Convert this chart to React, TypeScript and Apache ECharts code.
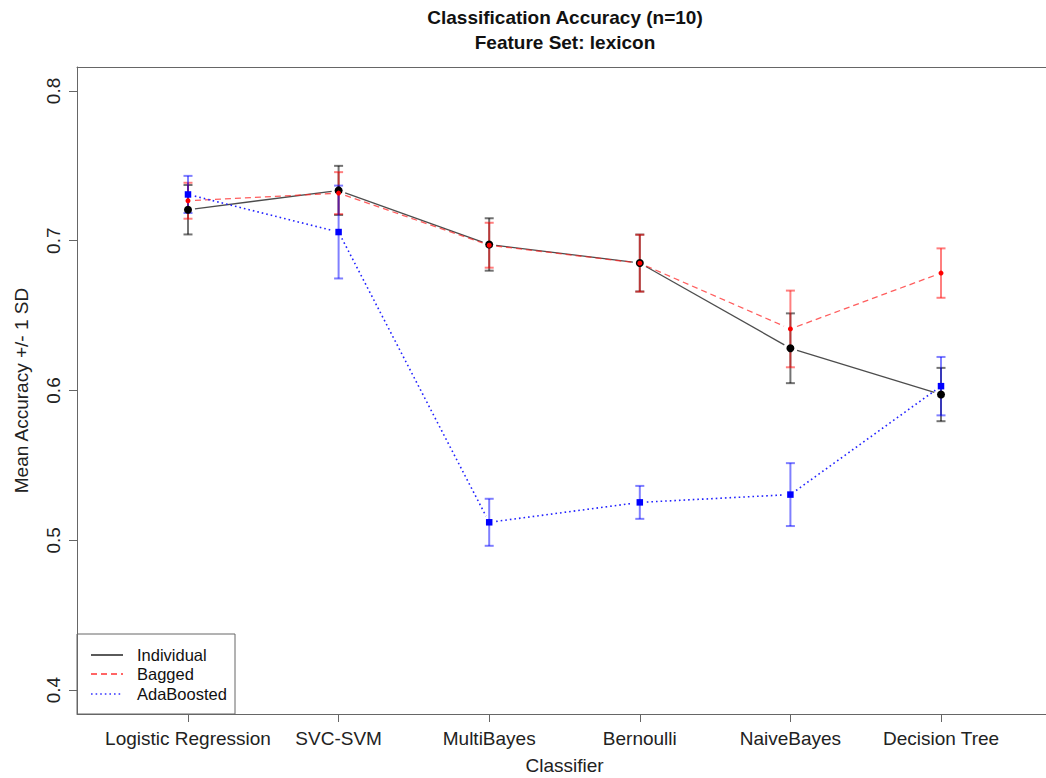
import React, { useEffect, useRef } from "react";
import * as echarts from "echarts";

const categories = ["Logistic Regression", "SVC-SVM", "MultiBayes", "Bernoulli", "NaiveBayes", "Decision Tree"];
const yTicks = [0.4, 0.5, 0.6, 0.7, 0.8];
const xTicks = [1, 2, 3, 4, 5, 6];

const individualMean = [0.7207, 0.7336, 0.6975, 0.6851, 0.6282, 0.5973];
const individualSD = [0.0165, 0.0164, 0.0175, 0.019, 0.0233, 0.0178];
const baggedMean = [0.7267, 0.7318, 0.697, 0.685, 0.6411, 0.6784];
const baggedSD = [0.012, 0.014, 0.015, 0.019, 0.0256, 0.0165];
const adaMean = [0.7309, 0.7058, 0.512, 0.5253, 0.5305, 0.6029];
const adaSD = [0.0124, 0.031, 0.0157, 0.011, 0.021, 0.0195];

const FONT = "Liberation Sans, Arial, sans-serif";

function errData(mean: number[], sd: number[]) {
  return mean.map((m, i) => [i + 1, m - sd[i], m + sd[i]]);
}
function segData(mean: number[]) {
  return mean.slice(0, -1).map((m, i) => [i + 1, m, i + 2, mean[i + 1]]);
}
function ptData(mean: number[]) {
  return mean.map((m, i) => [i + 1, m]);
}

function errSeries(name: string, mean: number[], sd: number[], color: string) {
  return {
    type: "custom",
    name: name + " SD",
    data: errData(mean, sd),
    encode: { x: 0, y: [1, 2] },
    z: 2,
    renderItem: (params: any, api: any) => {
      const lo = api.coord([api.value(0), api.value(1)]);
      const hi = api.coord([api.value(0), api.value(2)]);
      const w = 4.5;
      const style = { stroke: color, lineWidth: 2 };
      return {
        type: "group",
        children: [
          { type: "line", shape: { x1: lo[0], y1: lo[1], x2: hi[0], y2: hi[1] }, style },
          { type: "line", shape: { x1: lo[0] - w, y1: lo[1], x2: lo[0] + w, y2: lo[1] }, style },
          { type: "line", shape: { x1: hi[0] - w, y1: hi[1], x2: hi[0] + w, y2: hi[1] }, style },
        ],
      };
    },
  };
}

function lineSeries(name: string, mean: number[], color: string, dash: any, width: number) {
  return {
    type: "custom",
    name: name,
    data: segData(mean),
    encode: { x: [0, 2], y: [1, 3] },
    z: 3,
    renderItem: (params: any, api: any) => {
      const p1 = api.coord([api.value(0), api.value(1)]);
      const p2 = api.coord([api.value(2), api.value(3)]);
      const dx = p2[0] - p1[0];
      const dy = p2[1] - p1[1];
      const len = Math.hypot(dx, dy) || 1;
      const g = 7;
      const ux = dx / len;
      const uy = dy / len;
      return {
        type: "line",
        shape: { x1: p1[0] + ux * g, y1: p1[1] + uy * g, x2: p2[0] - ux * g, y2: p2[1] - uy * g },
        style: { stroke: color, lineWidth: width, lineDash: dash },
      };
    },
  };
}

function pointSeries(name: string, mean: number[], color: string, symbol: string, size: number, z: number) {
  return {
    type: "scatter",
    name: name + " pts",
    data: ptData(mean),
    symbol,
    symbolSize: size,
    itemStyle: { color, opacity: 1 },
    z,
  };
}

export default function App() {
  const ref = useRef<HTMLDivElement>(null);
  useEffect(() => {
    if (!ref.current) return;
    const chart = echarts.init(ref.current, undefined, { renderer: "svg" });
    const legendX = 77;
    const legendY = 634;
    const axisColor = "#666";
    chart.setOption({
      animation: false,
      backgroundColor: "#ffffff",
      grid: {
        left: 77,
        top: 67,
        bottom: 64,
        right: 0,
        outerBoundsMode: "none",
        containLabel: false,
        show: false,
      },
      xAxis: [
        {
          type: "value",
          min: 0.263,
          max: 6.737,
          name: "Classifier",
          nameLocation: "middle",
          nameGap: 42,
          nameTextStyle: { fontFamily: FONT, fontSize: 19, color: "#222" },
          axisLine: { show: true, onZero: false, lineStyle: { color: axisColor, width: 1 } },
          splitLine: { show: false },
          axisTick: { show: true, length: 8, lineStyle: { color: axisColor }, customValues: xTicks },
          axisLabel: {
            customValues: xTicks,
            formatter: (v: number) => categories[Math.round(v) - 1] || "",
            fontFamily: FONT,
            fontSize: 19,
            color: "#222",
            margin: 15,
          },
        },
        {
          type: "value",
          position: "top",
          min: 0.263,
          max: 6.737,
          axisLine: { show: true, onZero: false, lineStyle: { color: axisColor, width: 1 } },
          axisTick: { show: false },
          axisLabel: { show: false },
          splitLine: { show: false },
        },
      ],
      yAxis: {
        type: "value",
        min: 0.384,
        max: 0.816,
        name: "Mean Accuracy +/- 1 SD",
        nameLocation: "middle",
        nameGap: 46,
        nameRotate: 90,
        nameTextStyle: { fontFamily: FONT, fontSize: 19, color: "#222" },
        axisLine: { show: true, onZero: false, lineStyle: { color: axisColor, width: 1 } },
        splitLine: { show: false },
        axisTick: { show: true, length: 8, lineStyle: { color: axisColor }, customValues: yTicks },
        axisLabel: {
          customValues: yTicks,
          rotate: 90,
          formatter: (v: number) => v.toFixed(1),
          fontFamily: FONT,
          fontSize: 19,
          color: "#222",
          margin: 14,
        },
      },
      graphic: [
        {
          type: "text",
          x: 565,
          y: 17,
          style: {
            text: "Classification Accuracy (n=10)",
            font: "bold 19px " + FONT,
            fill: "#111",
            textAlign: "center",
            textVerticalAlign: "middle",
          },
        },
        {
          type: "text",
          x: 565,
          y: 42,
          style: {
            text: "Feature Set: lexicon",
            font: "bold 19px " + FONT,
            fill: "#111",
            textAlign: "center",
            textVerticalAlign: "middle",
          },
        },
        {
          type: "group",
          x: legendX,
          y: legendY,
          z: 100,
          children: [
            { type: "rect", shape: { x: 0, y: 0, width: 158, height: 80 }, style: { fill: "#fff", stroke: "#666", lineWidth: 1 } },
            { type: "line", shape: { x1: 14, y1: 21, x2: 46, y2: 21 }, style: { stroke: "#000", lineWidth: 1.3 } },
            { type: "line", shape: { x1: 14, y1: 40, x2: 46, y2: 40 }, style: { stroke: "#ff3333", lineWidth: 1.3, lineDash: [6, 4] } },
            { type: "line", shape: { x1: 14, y1: 60, x2: 46, y2: 60 }, style: { stroke: "#3333ff", lineWidth: 1.6, lineDash: [1.6, 3] } },
            { type: "text", x: 60, y: 21, style: { text: "Individual", font: "16.5px " + FONT, fill: "#111", textVerticalAlign: "middle" } },
            { type: "text", x: 60, y: 40, style: { text: "Bagged", font: "16.5px " + FONT, fill: "#111", textVerticalAlign: "middle" } },
            { type: "text", x: 60, y: 60, style: { text: "AdaBoosted", font: "16.5px " + FONT, fill: "#111", textVerticalAlign: "middle" } },
          ],
        },
      ],
      series: [
        errSeries("Individual", individualMean, individualSD, "rgba(0,0,0,0.55)"),
        errSeries("Bagged", baggedMean, baggedSD, "rgba(255,0,0,0.5)"),
        errSeries("AdaBoosted", adaMean, adaSD, "rgba(0,0,255,0.5)"),
        lineSeries("Individual", individualMean, "rgba(0,0,0,0.7)", null, 1.3),
        lineSeries("Bagged", baggedMean, "rgba(255,40,40,0.75)", [6, 4], 1.3),
        lineSeries("AdaBoosted", adaMean, "#2222ff", [1.6, 3], 1.6),
        pointSeries("Individual", individualMean, "#000", "circle", 8, 4),
        pointSeries("Bagged", baggedMean, "#ff0000", "circle", 5, 5),
        pointSeries("AdaBoosted", adaMean, "#0000ff", "rect", 6.5, 6),
      ],
    });
    return () => chart.dispose();
  }, []);
  return <div ref={ref} style={{ position: "fixed", left: 0, top: 0, width: 1052, height: 778 }} />;
}
